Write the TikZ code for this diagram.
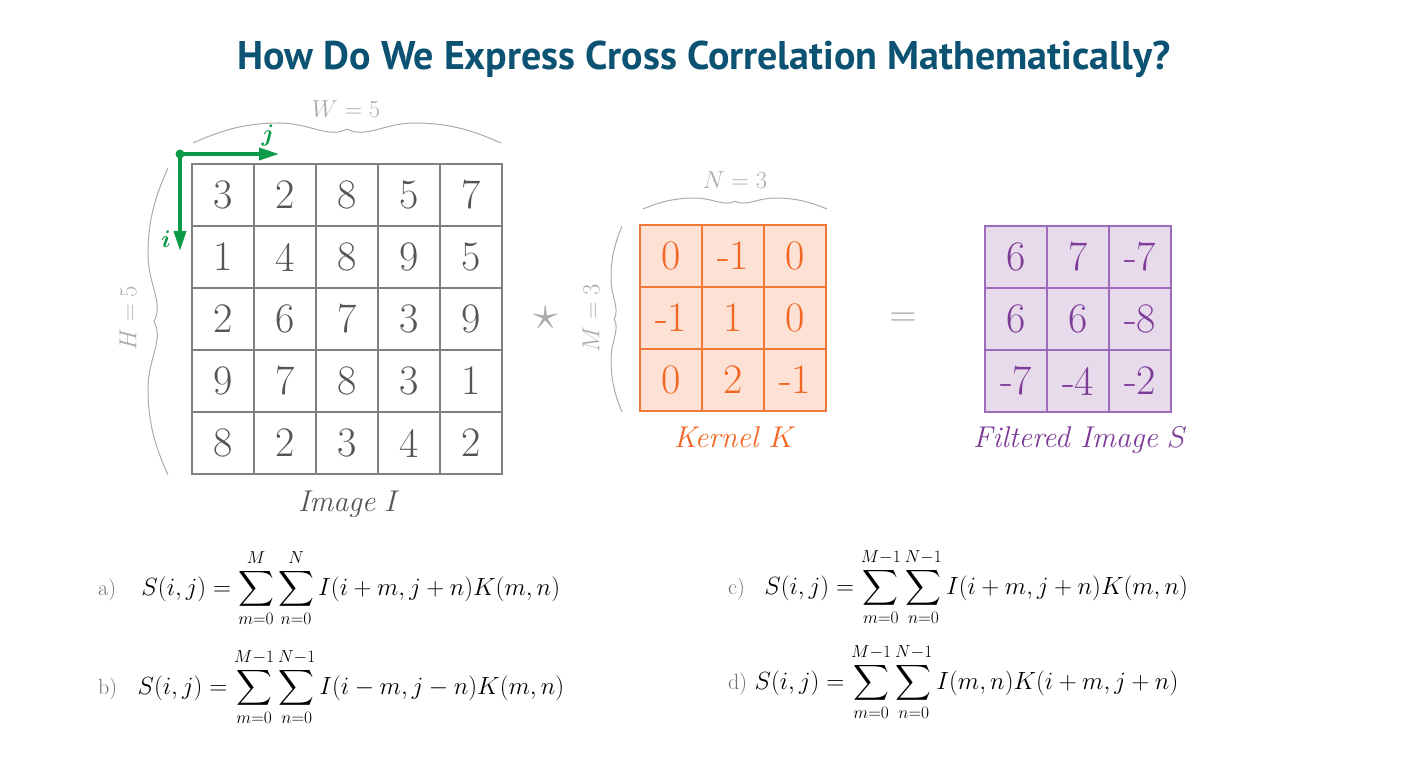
\RequirePackage{fix-cm}
\documentclass[tikz,border=0pt]{standalone}
\usepackage{amsmath}
\usepackage{bm}
\usepackage{fontspec}
\usepackage{tikz}
\usetikzlibrary{arrows.meta,positioning}
\newfontfamily\titlefont{PT Sans}
\definecolor{titleblue}{HTML}{0B5273}
\definecolor{cellink}{HTML}{555555}
\definecolor{gridline}{HTML}{808080}
\definecolor{bracegrey}{HTML}{ABABAB}
\definecolor{eqgrey}{HTML}{707070}
\definecolor{axisgreen}{HTML}{0A9A48}
\definecolor{kernink}{HTML}{F26522}
\definecolor{kernline}{HTML}{F07838}
\definecolor{kernfill}{HTML}{FCE1D4}
\definecolor{outink}{HTML}{7D3C98}
\definecolor{outline}{HTML}{9C6CB8}
\definecolor{outfill}{HTML}{E6DAEB}
\tikzset{
  % ---- grid cells -----------------------------------------------------
  cell/.style={minimum size=62pt, inner sep=0pt, line width=1.2pt,
    font=\fontsize{42}{42}\selectfont},
  imgcell/.style={cell, draw=gridline, text=cellink},
  kcell/.style={cell, draw=kernline, fill=kernfill, text=kernink},
  scell/.style={cell, draw=outline, fill=outfill, text=outink},
  % ---- labels ---------------------------------------------------------
  titletext/.style={anchor=base, text=titleblue,
    font=\titlefont\bfseries\fontsize{40}{40}\selectfont},
  dimlabel/.style={text=bracegrey, font=\fontsize{24.5}{24.5}\selectfont},
  gname/.style={anchor=base, font=\fontsize{30}{30}\selectfont},
  axlabel/.style={text=axisgreen, font=\fontsize{24}{24}\selectfont},
  opsym/.style={text=bracegrey},
  eqn/.style={inner sep=0pt, font=\fontsize{24.9}{28}\selectfont},
  eqtag/.style={inner sep=0pt, anchor=base west, text=eqgrey,
    font=\fontsize{22}{22}\selectfont},
  % ---- axes and braces ------------------------------------------------
  axis/.style={draw=axisgreen, line width=3.5pt,
    -{Triangle[length=20pt,width=12pt]}},
  axisdot/.style={circle, fill=axisgreen, minimum size=9pt, inner sep=0pt},
  dimbrace/.style={draw=bracegrey, line width=1pt},
  pics/wbrace/.style={code={
    \draw[dimbrace] (0,0) .. controls (0.08,0.55) and (0.16,1) .. (0.28,1)
      .. controls (0.38,1) and (0.44,0.2) .. (0.5,0.7)
      .. controls (0.56,0.2) and (0.62,1) .. (0.72,1)
      .. controls (0.84,1) and (0.92,0.55) .. (1,0);}},
}
\begin{document}
\begin{tikzpicture}[x=1pt, y=-1pt]
\useasboundingbox (0,0) rectangle (1410,759);

% ---- title ------------------------------------------------------------
\node[titletext] (title) at (704,70) {How Do We Express Cross Correlation Mathematically?};

% ---- image I ----------------------------------------------------------
\foreach \row [count=\r] in {{3,2,8,5,7},{1,4,8,9,5},{2,6,7,3,9},{9,7,8,3,1},{8,2,3,4,2}}
  \foreach \v [count=\c] in \row
    \node[imgcell] (I-\r-\c) at ({161+62*\c},{133+62*\r}) {\v};
\node[gname, text=cellink] (Iname) at (349,511) {\textit{Image} $I$};

% ---- kernel K ---------------------------------------------------------
\foreach \row [count=\r] in {{0,-1,0},{-1,1,0},{0,2,-1}}
  \foreach \v [count=\c] in \row
    \node[kcell] (K-\r-\c) at ({609+62*\c},{194+62*\r}) {\v};
\node[gname, text=kernink] (Kname) at (735,447) {\textit{Kernel} $K$};

% ---- filtered image S -------------------------------------------------
\foreach \row [count=\r] in {{6,7,-7},{6,6,-8},{-7,-4,-2}}
  \foreach \v [count=\c] in \row
    \node[scell] (S-\r-\c) at ({954+62*\c},{195+62*\r}) {\v};
\node[gname, text=outink] (Sname) at (1080,447) {\textit{Filtered Image} $S$};

% ---- operators --------------------------------------------------------
\node[opsym, font=\fontsize{50}{50}\selectfont] (star) at (546,318) {$\star$};
\node[opsym, font=\fontsize{38}{38}\selectfont] (eq) at (903,320) {$=$};

% ---- i / j axes -------------------------------------------------------
\node[axisdot] (origin) at (180,154) {};
\coordinate (jend) at (279,154);
\coordinate (iend) at (180,251);
\draw[axis] (origin.center) -- (jend);
\draw[axis] (origin.center) -- (iend);
\node[axlabel] (jlab) at (268,136) {$\bm{j}$};
\node[axlabel] (ilab) at (166,239) {$\bm{i}$};

% ---- dimension braces -------------------------------------------------
\coordinate (Wb) at (193,143);
\coordinate (Hb) at (168,168);
\coordinate (Nb) at (643,209);
\coordinate (Mb) at (622,226);
\pic[x={(308pt,0pt)}, y={(0pt,20pt)}] at (Wb) {wbrace};
\pic[x={(0pt,-307pt)}, y={(-20pt,0pt)}] at (Hb) {wbrace};
\pic[x={(184pt,0pt)}, y={(0pt,11pt)}] at (Nb) {wbrace};
\pic[x={(0pt,-186pt)}, y={(-11pt,0pt)}] at (Mb) {wbrace};
\node[dimlabel] (Wlab) at (346,109) {$W=5$};
\node[dimlabel, rotate=90] (Hlab) at (128,318) {$H=5$};
\node[dimlabel] (Nlab) at (735,180) {$N=3$};
\node[dimlabel, rotate=90] (Mlab) at (591,318) {$M=3$};

% ---- candidate formulas -----------------------------------------------
\node[eqtag] (tagA) at (98,595) {a)};
\node[eqn, base right=25pt of tagA]
  {$\displaystyle S(i,j)=\sum_{m=0}^{M}\sum_{n=0}^{N}I(i+m,j+n)K(m,n)$};
\node[eqtag] (tagB) at (98,694) {b)};
\node[eqn, base right=20pt of tagB]
  {$\displaystyle S(i,j)=\sum_{m=0}^{M-1}\sum_{n=0}^{N-1}I(i-m,j-n)K(m,n)$};
\node[eqtag] (tagC) at (728,594) {c)};
\node[eqn, base right=19pt of tagC]
  {$\displaystyle S(i,j)=\sum_{m=0}^{M-1}\sum_{n=0}^{N-1}I(i+m,j+n)K(m,n)$};
\node[eqtag] (tagD) at (728,689) {d)};
\node[eqn, base right=7pt of tagD]
  {$\displaystyle S(i,j)=\sum_{m=0}^{M-1}\sum_{n=0}^{N-1}I(m,n)K(i+m,j+n)$};

\end{tikzpicture}
\end{document}
